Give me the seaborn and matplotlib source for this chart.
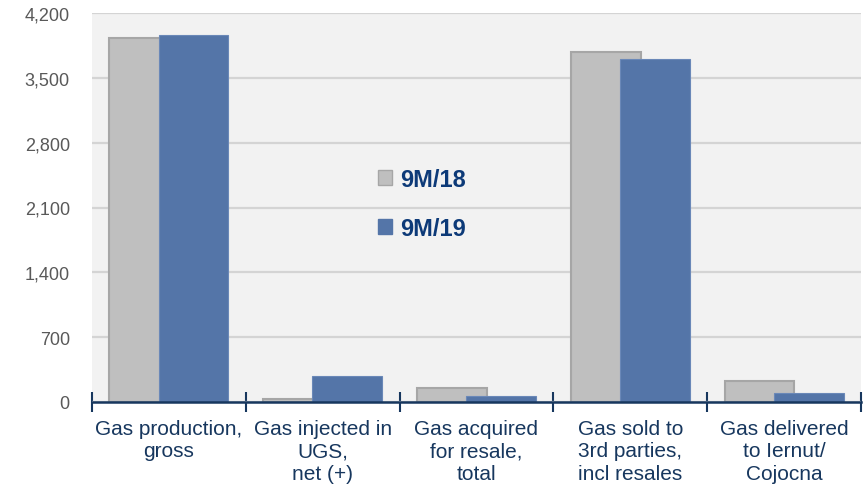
import pandas as pd
import numpy as np
import seaborn as sns
import matplotlib.pyplot as plt
from matplotlib.patches import Patch
from matplotlib.ticker import FuncFormatter

# values
categories = ["Gas production,\ngross", "Gas injected in\nUGS,\nnet (+)",
              "Gas acquired\nfor resale,\ntotal", "Gas sold to\n3rd parties,\nincl resales",
              "Gas delivered\nto Iernut/\nCojocna"]
periods = ["9M/18", "9M/19"]
values_18 = [3927, 32, 151, 3783, 230]
values_19 = [3962, 284, 65, 3701, 97]
yticks = [0, 700, 1400, 2100, 2800, 3500, 4200]

gray = "#BFBFBF"
blue = "#5475A8"
navy = "#17375E"

df = pd.DataFrame({
    "category": categories * 2,
    "period": [periods[0]] * len(categories) + [periods[1]] * len(categories),
    "value": values_18 + values_19,
})

sns.set_style("white")
plt.rcParams["font.family"] = ["Liberation Sans", "DejaVu Sans"]

fig = plt.figure(figsize=(8.68, 4.89), dpi=100)
ax = fig.add_axes([92 / 868, 1 - 403 / 489, 769 / 868, 389 / 489])
ax.set_facecolor("#F2F2F2")

sns.barplot(data=df, x="category", y="value", hue="period", order=categories,
            hue_order=periods, palette=[gray, blue], dodge=True, width=0.64,
            saturation=1, legend=False, ax=ax)

# widen the bars so the 9M/19 bar overlaps the 9M/18 one, like the original
new_w = 0.455
for i, p in enumerate(ax.patches):
    c = p.get_x() + p.get_width() / 2
    p.set_width(new_w)
    p.set_x(c - new_w / 2)
    if p.get_facecolor()[:3] == plt.matplotlib.colors.to_rgb(gray):
        p.set_edgecolor("#A6A6A6")
        p.set_linewidth(1.5)
        p.set_zorder(2)
    else:
        p.set_edgecolor("#6A88B8")
        p.set_linewidth(0.8)
        p.set_zorder(3)

ax.set_xlim(-0.5, len(categories) - 0.5)
ax.set_ylim(0, 4200)
ax.set_yticks(yticks)
ax.yaxis.set_major_formatter(FuncFormatter(lambda v, _: f"{int(v):,}"))
ax.tick_params(axis="y", length=0, pad=16, labelsize=13, labelcolor="#595959")
ax.grid(axis="y", color="#D4D4D4", linewidth=1.6, zorder=0)
ax.set_axisbelow(True)

# boundaries as major ticks, labels as minor ticks
ax.set_xticks(np.arange(-0.5, len(categories)), labels=[""] * (len(categories) + 1))
ax.set_xticks(np.arange(len(categories)), labels=categories, minor=True)
ax.tick_params(axis="x", which="major", bottom=True, direction="inout", length=14,
               width=1.5, color=navy)
ax.tick_params(axis="x", which="minor", bottom=True, length=0, pad=12, labelsize=15,
               labelcolor=navy)
for lbl in ax.get_xticklabels(minor=True):
    lbl.set_linespacing(1.25)

for s in ["left", "right", "top"]:
    ax.spines[s].set_visible(False)
ax.spines["bottom"].set_color(navy)
ax.spines["bottom"].set_linewidth(1.8)
ax.spines["bottom"].set_zorder(5)
ax.set_xlabel("")
ax.set_ylabel("")

handles = [Patch(facecolor=gray, edgecolor="#A6A6A6"), Patch(facecolor=blue, edgecolor=blue)]
leg = ax.legend(handles, periods, loc="upper left", bbox_to_anchor=(378 / 868, 1 - 169 / 489),
                bbox_transform=fig.transFigure, frameon=False, borderpad=0, borderaxespad=0,
                handlelength=0.6, handleheight=0.6, handletextpad=0.35, labelspacing=1.08,
                prop={"size": 17, "weight": "bold"})
for t in leg.get_texts():
    t.set_color("#0D3A78")

fig.savefig("out.png", dpi=100, facecolor="white")
